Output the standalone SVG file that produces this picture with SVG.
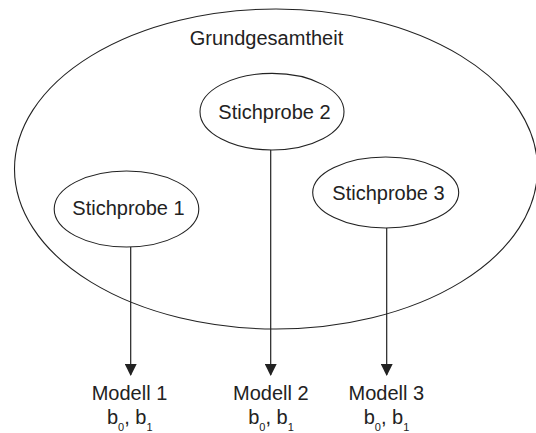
<svg xmlns="http://www.w3.org/2000/svg" width="536" height="433" viewBox="0 0 536 433">
  <style>
    .shape { fill: none; stroke: #222; stroke-width: 1.1; }
    .conn { stroke: #222; stroke-width: 1.2; fill: none; }
    text { font-family: "Liberation Sans", Arial, sans-serif; font-size: 20px; fill: #222; text-anchor: middle; }
    .sub { font-size: 11px; }
  </style>
  <defs>
    <marker id="arrow" markerWidth="12" markerHeight="12" refX="11" refY="6" orient="auto" markerUnits="userSpaceOnUse">
      <path d="M0,0 L12,6 L0,12 Z" fill="#222"/>
    </marker>
  </defs>

  <!-- population -->
  <g id="grundgesamtheit">
    <ellipse class="shape" cx="276" cy="169" rx="261.5" ry="160"/>
    <text x="266.5" y="44.5">Grundgesamtheit</text>
  </g>

  <!-- samples -->
  <g id="stichprobe1">
    <ellipse class="shape" cx="126.5" cy="209" rx="72.3" ry="38"/>
    <text x="128.5" y="214.5">Stichprobe 1</text>
  </g>
  <g id="stichprobe2">
    <ellipse class="shape" cx="272" cy="111.7" rx="72" ry="38.3"/>
    <text x="274.5" y="118.5">Stichprobe 2</text>
  </g>
  <g id="stichprobe3">
    <ellipse class="shape" cx="385.7" cy="192.5" rx="73" ry="35.5"/>
    <text x="388.5" y="199.5">Stichprobe 3</text>
  </g>

  <!-- connectors -->
  <g id="connectors">
    <line class="conn" x1="130.7" y1="247" x2="130.7" y2="375" marker-end="url(#arrow)"/>
    <line class="conn" x1="270.7" y1="150" x2="270.7" y2="375" marker-end="url(#arrow)"/>
    <line class="conn" x1="386.7" y1="228" x2="386.7" y2="375" marker-end="url(#arrow)"/>
  </g>

  <!-- models -->
  <g id="modell1">
    <text x="129.5" y="400">Modell 1</text>
    <text x="129.7" y="424.3">b<tspan class="sub" dy="7">0</tspan><tspan dy="-7">, b</tspan><tspan class="sub" dy="7">1</tspan></text>
  </g>
  <g id="modell2">
    <text x="270.8" y="399.5">Modell 2</text>
    <text x="271" y="424.3">b<tspan class="sub" dy="7">0</tspan><tspan dy="-7">, b</tspan><tspan class="sub" dy="7">1</tspan></text>
  </g>
  <g id="modell3">
    <text x="386.3" y="399.5">Modell 3</text>
    <text x="386.5" y="424.3">b<tspan class="sub" dy="7">0</tspan><tspan dy="-7">, b</tspan><tspan class="sub" dy="7">1</tspan></text>
  </g>
</svg>
